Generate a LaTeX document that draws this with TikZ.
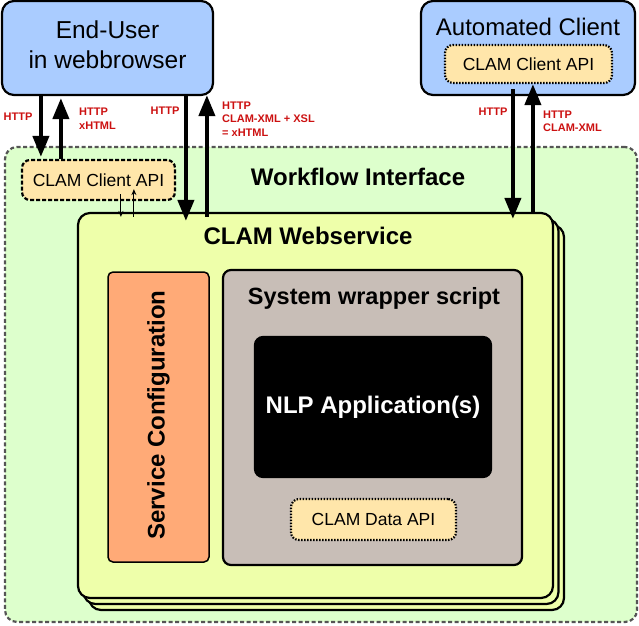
\documentclass[tikz,border=0pt]{standalone}
\usepackage{fontspec}
\setmainfont{Liberation Sans}
\usetikzlibrary{arrows.meta}
\definecolor{cblue}{RGB}{170,204,255}
\definecolor{capi}{RGB}{255,230,170}
\definecolor{cwf}{RGB}{221,255,204}
\definecolor{cws}{RGB}{238,255,170}
\definecolor{cconf}{RGB}{255,170,119}
\definecolor{cwrap}{RGB}{200,190,183}
\definecolor{clab}{RGB}{204,17,17}
\definecolor{cgray}{RGB}{85,85,85}
\tikzset{
  box/.style={rectangle, draw=black, line width=2.2pt, inner sep=0pt},
  apibox/.style={box, fill=capi, rounded corners=8pt, dash pattern=on 2pt off 1.5pt},
  bigarrow/.style={line width=4pt, -{Triangle[length=21pt,width=16pt]}},
  smallarrow/.style={line width=1pt, -{Stealth[length=6pt,width=5pt]}},
  lab/.style={text=clab, font=\bfseries\fontsize{11}{13.5}\selectfont, inner sep=0pt},
  lablr/.style={lab, align=left, anchor=west},
}
\begin{document}
\begin{tikzpicture}[x=1pt,y=-1pt]
\useasboundingbox (0,0) rectangle (639,625);
% top boxes
\node[box, fill=cblue, rounded corners=12pt, minimum width=211pt, minimum height=94pt] (enduser) at (107.5,48) {};
\node[font=\fontsize{24.5}{30}\selectfont, align=center] (eutext) at (107.5,45) {End-User\\in webbrowser};
\node[box, fill=cblue, rounded corners=12pt, minimum width=214pt, minimum height=94pt] (auto) at (528,48) {};
\node[font=\fontsize{24}{28}\selectfont] (autotext) at (528,27) {Automated Client};
\node[apibox, dash pattern=on 1.5pt off 1.5pt, minimum width=167pt, minimum height=38pt, font=\fontsize{17.5}{20}\selectfont] (rapi) at (528.5,64) {CLAM Client API};
% workflow interface
\node[box, draw=cgray, fill=cwf, dash pattern=on 4pt off 2.5pt, rounded corners=12pt, minimum width=632pt, minimum height=475pt] (wf) at (321,384.5) {};
\node[font=\bfseries\fontsize{24}{28}\selectfont] (wftext) at (358,177) {Workflow Interface};
\node[apibox, dash pattern=on 4pt off 2pt, minimum width=153pt, minimum height=40pt, font=\fontsize{17.5}{20}\selectfont] (lapi) at (98.5,180) {CLAM Client API};
% webservice stack
\node[box, fill=cws, rounded corners=12pt, minimum width=475pt, minimum height=385pt] (ws3) at (326.5,417.5) {};
\node[box, fill=cws, rounded corners=12pt, minimum width=475pt, minimum height=385pt] (ws2) at (321,411.5) {};
\node[box, fill=cws, rounded corners=12pt, minimum width=475pt, minimum height=385pt] (ws) at (315.5,405.5) {};
\node[font=\bfseries\fontsize{24}{28}\selectfont] (wstext) at (308,236) {CLAM Webservice};
\node[box, fill=cconf, line width=1.5pt, rounded corners=5pt, minimum width=101pt, minimum height=290pt] (conf) at (158.5,417) {};
\node[font=\bfseries\fontsize{24}{28}\selectfont, rotate=90] (conftext) at (158.5,415) {Service Configuration};
\node[box, fill=cwrap, rounded corners=8pt, minimum width=299pt, minimum height=295pt] (wrap) at (372.5,417.5) {};
\node[font=\bfseries\fontsize{23.5}{28}\selectfont] (wraptext) at (374,298) {System wrapper script};
\node[box, fill=black, rounded corners=8pt, minimum width=236pt, minimum height=140pt, text=white, font=\bfseries\fontsize{24}{28}\selectfont] (nlp) at (373,407) {NLP Application(s)};
\node[apibox, dash pattern=on 1.5pt off 1.5pt, minimum width=165pt, minimum height=41pt, font=\fontsize{17.5}{20}\selectfont] (dapi) at (373.5,519.5) {CLAM Data API};
% arrows left pair
\draw[bigarrow] ([xshift=40pt]enduser.south west) -- ([xshift=20pt,yshift=2pt]lapi.north west);
\draw[bigarrow] ([xshift=40pt]lapi.north west) -- ([xshift=60pt,yshift=-2pt]enduser.south west);
% small arrows
\draw[smallarrow] ([xshift=100pt,yshift=7pt]lapi.south west) -- ([xshift=44pt,yshift=-5pt]ws.north west);
\draw[smallarrow] ([xshift=57pt,yshift=-5pt]ws.north west) -- ([xshift=113pt,yshift=12pt]lapi.south west);
% middle pair
\draw[bigarrow] ([xshift=185pt]enduser.south west) -- ([xshift=109pt,yshift=-9pt]ws.north west);
\draw[bigarrow] ([xshift=130pt,yshift=-5pt]ws.north west) -- ([xshift=206pt,yshift=1pt]enduser.south west);
% right pair
\draw[bigarrow] ([xshift=69pt,yshift=-5pt]rapi.south west) -- ([xshift=436pt,yshift=-7pt]ws.north west);
\draw[bigarrow] ([xshift=456pt,yshift=-2pt]ws.north west) -- ([xshift=89pt]rapi.south west);
% labels
\node[lab] (l1) at (18,117) {HTTP};
\node[lablr] (l2) at (79,118.5) {HTTP\\xHTML};
\node[lab] (l3) at (165,111) {HTTP};
\node[lablr] (l4) at (222,119) {HTTP\\CLAM-XML + XSL\\= xHTML};
\node[lab] (l5) at (493,112) {HTTP};
\node[lablr] (l6) at (543,121.5) {HTTP\\CLAM-XML};
\end{tikzpicture}
\end{document}
